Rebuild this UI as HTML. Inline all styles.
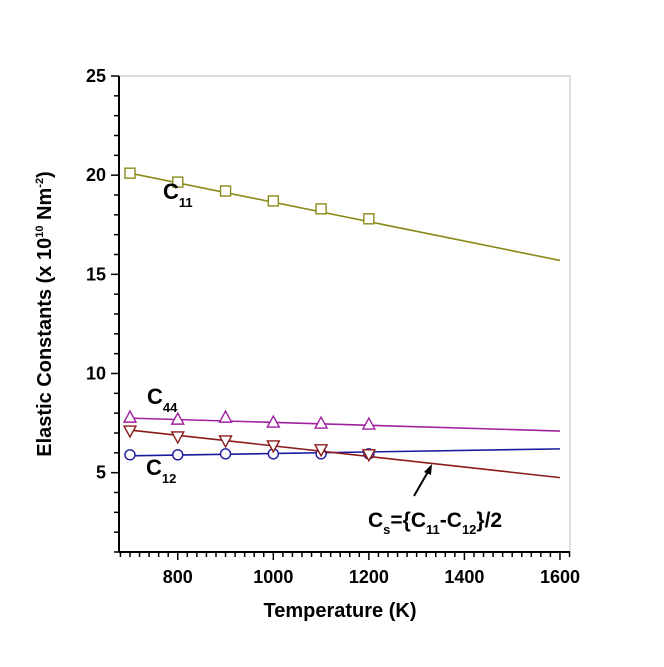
<!DOCTYPE html>
<html><head><meta charset="utf-8"><style>
body{margin:0;background:#fff;width:664px;height:662px;overflow:hidden}
svg text{font-family:"Liberation Sans",Arial,sans-serif;font-weight:bold}
</style></head><body>
<svg id="chart" width="664" height="662" xmlns="http://www.w3.org/2000/svg"></svg>
<script>
const temps=[700,800,900,1000,1100,1200];
const c11=[20.1,19.65,19.2,18.7,18.3,17.8];
const c44=[7.8,7.7,7.8,7.55,7.5,7.45];
const c12=[5.9,5.9,5.95,5.95,5.95,5.95];
const cs=[7.1,6.8,6.6,6.35,6.15,5.9];
const fitX=[700,1600];
const c11Fit=[20.1,15.7];
const c44Fit=[7.75,7.1];
const c12Fit=[5.85,6.2];
const csFit=[7.15,4.75];
const xTicks=[800,1000,1200,1400,1600];
const yTicks=[5,10,15,20,25];

const svg=document.getElementById('chart');
const NS='http://www.w3.org/2000/svg';
const X0=119,X1=570,XMIN=677,XMAX=1621;
const Y0=552,Y1=76,YMIN=1,YMAX=25;
const xs=v=>X0+(v-XMIN)/(XMAX-XMIN)*(X1-X0);
const ys=v=>Y0-(v-YMIN)/(YMAX-YMIN)*(Y0-Y1);
function mk(tag,attrs,parent){const e=document.createElementNS(NS,tag);for(const k in attrs)e.setAttribute(k,attrs[k]);(parent||svg).appendChild(e);return e;}

const frame=mk('rect',{x:X0,y:Y1,width:X1-X0,height:Y0-Y1,fill:'none',stroke:'#bbb','stroke-width':1});


const ya=mk('line',{x1:X0,y1:Y1,x2:X0,y2:Y0,stroke:'#000','stroke-width':2});


const xa=mk('line',{x1:X0,y1:Y0,x2:X1,y2:Y0,stroke:'#000','stroke-width':2});



for(let v=YMIN;v<=YMAX;v++){
  const major=v%5===0;
  const t=mk('line',{x1:X0-(major?8:5),x2:X0,y1:ys(v),y2:ys(v),stroke:'#000','stroke-width':1.5});
  
  
}
yTicks.forEach(v=>{
  const t=mk('text',{x:X0-13,y:ys(v)+6,'text-anchor':'end','font-size':18});
  t.textContent=v;
  
  
});
for(let v=680;v<=1620;v+=20){
  const major=v%200===0;
  const t=mk('line',{x1:xs(v),x2:xs(v),y1:Y0,y2:Y0+(major?8:5),stroke:'#000','stroke-width':1.5});
  
  
}
xTicks.forEach(v=>{
  const t=mk('text',{x:xs(v),y:Y0+31,'text-anchor':'middle','font-size':18});
  t.textContent=v;
  
  
});
const xt=mk('text',{x:340,y:617,'text-anchor':'middle','font-size':20});
xt.textContent='Temperature (K)';


const yt=mk('text',{x:0,y:0,'text-anchor':'middle','font-size':20,transform:'translate(51,314) rotate(-90)'});
yt.innerHTML='Elastic Constants (x 10<tspan font-size="11" dy="-8">10</tspan><tspan dy="8"> Nm</tspan><tspan font-size="11" dy="-8">-2</tspan><tspan dy="8">)</tspan>';



function series(name,vals,fit,color,shape){
  const l=mk('line',{x1:xs(fitX[0]),y1:ys(fit[0]),x2:xs(fitX[1]),y2:ys(fit[1]),stroke:color,'stroke-width':1.6});
  
  
  vals.forEach((v,i)=>{
    const cx=xs(temps[i]),cy=ys(v);let m;
    if(shape==='sq')m=mk('rect',{x:cx-5,y:cy-5,width:10,height:10,fill:'#fff',stroke:color,'stroke-width':1.4});
    else if(shape==='circ')m=mk('circle',{cx:cx,cy:cy,r:5,fill:'#fff',stroke:color,'stroke-width':1.4});
    else if(shape==='up')m=mk('polygon',{points:`${cx},${cy-6} ${cx-6},${cy+5} ${cx+6},${cy+5}`,fill:'#fff',stroke:color,'stroke-width':1.4});
    else m=mk('polygon',{points:`${cx},${cy+6} ${cx-6},${cy-5} ${cx+6},${cy-5}`,fill:'#fff',stroke:color,'stroke-width':1.4});
    
    
  });
}
series('c11',c11,c11Fit,'#8a8a1a','sq');
series('c44',c44,c44Fit,'#a020a0','up');
series('c12',c12,c12Fit,'#1a1aa0','circ');
series('cs',cs,csFit,'#8b1a1a','down');

function label(x,y,main,sub,name){
  const t=mk('text',{x:x,y:y,'font-size':22});
  t.innerHTML=main+'<tspan font-size="13" dy="8">'+sub+'</tspan>';
  
  
}
label(163,199,'C','11','c11-label');
label(147,404,'C','44','c44-label');
label(146,475,'C','12','c12-label');
const cl=mk('text',{x:368,y:527,'font-size':21});
cl.innerHTML='C<tspan font-size="13" dy="7">s</tspan><tspan dy="-7">={C</tspan><tspan font-size="13" dy="7">11</tspan><tspan dy="-7">-C</tspan><tspan font-size="13" dy="7">12</tspan><tspan dy="-7">}/2</tspan>';


const ar=mk('line',{x1:414,y1:496,x2:429,y2:470,stroke:'#000','stroke-width':2});


const ah=mk('polygon',{points:'432,464 424,472 431,475',fill:'#000'});


</script>
</body></html>
